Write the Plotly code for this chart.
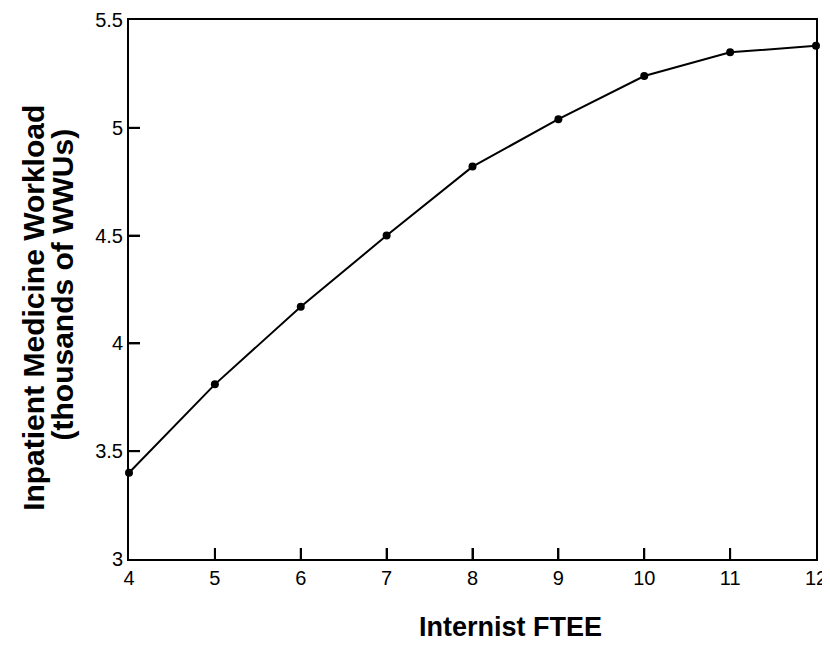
import plotly.graph_objects as go

ftee = [4, 5, 6, 7, 8, 9, 10, 11, 12]
workload = [3.40, 3.81, 4.17, 4.50, 4.82, 5.04, 5.24, 5.35, 5.38]
x_ticks = [4, 5, 6, 7, 8, 9, 10, 11, 12]
y_ticks = [3, 3.5, 4, 4.5, 5, 5.5]
y_tick_text = ["3", "3.5", "4", "4.5", "5", "5.5"]
x_title = "Internist FTEE"
y_title_1 = "Inpatient Medicine Workload"
y_title_2 = "(thousands of WWUs)"

font_family = "Liberation Sans, Arial, Helvetica, sans-serif"
x_range = [4, 12]
y_range = [3, 5.5]

fig = go.Figure()

# inward tick marks, built from the tick arrays (length ~11px in data units)
x_len = 11 / 539 * (y_range[1] - y_range[0])
y_len = 11 / 689 * (x_range[1] - x_range[0])
tx, ty = [], []
for xv in x_ticks[1:-1]:
    tx += [xv, xv, None]
    ty += [y_range[0], y_range[0] + x_len, None]
for yv in y_ticks[1:-1]:
    tx += [x_range[0], x_range[0] + y_len, None]
    ty += [yv, yv, None]
fig.add_trace(go.Scatter(x=tx, y=ty, mode="lines", line=dict(color="black", width=2),
                         hoverinfo="skip", showlegend=False))

fig.add_trace(go.Scatter(
    x=ftee, y=workload, mode="lines+markers",
    line=dict(color="black", width=2),
    marker=dict(color="black", size=8),
    cliponaxis=False, showlegend=False,
))

fig.update_layout(
    template="none",
    width=822, height=644,
    margin=dict(l=121, r=14, t=12, b=93, autoexpand=False),
    paper_bgcolor="white", plot_bgcolor="white",
    font=dict(family=font_family, color="black", size=20),
)
fig.update_xaxes(
    range=x_range, tickmode="array", tickvals=x_ticks, ticks="inside", ticklen=11,
    tickwidth=2, tickcolor="black",
    showline=True, linecolor="black", linewidth=2, mirror=True,
    showgrid=False, zeroline=False, tickfont=dict(size=20), automargin=False,
)
fig.update_yaxes(
    range=y_range, tickmode="array", tickvals=y_ticks, ticktext=y_tick_text,
    ticks="inside", ticklen=11, tickwidth=2, tickcolor="black",
    showline=True, linecolor="black", linewidth=2, mirror=True,
    showgrid=False, zeroline=False, tickfont=dict(size=20), automargin=False,
)

fig.add_annotation(text="<b>" + x_title + "</b>", xref="paper", yref="paper",
                   x=0.555, y=-0.126, showarrow=False, font=dict(size=27),
                   xanchor="center", yanchor="middle")
fig.add_annotation(text="<b>" + y_title_1 + "</b>", xref="paper", yref="paper",
                   x=-0.139, y=0.465, showarrow=False, font=dict(size=30),
                   textangle=-90, xanchor="center", yanchor="middle")
fig.add_annotation(text="<b>" + y_title_2 + "</b>", xref="paper", yref="paper",
                   x=-0.097, y=0.51, showarrow=False, font=dict(size=30),
                   textangle=-90, xanchor="center", yanchor="middle")

fig.write_html("out.html")
